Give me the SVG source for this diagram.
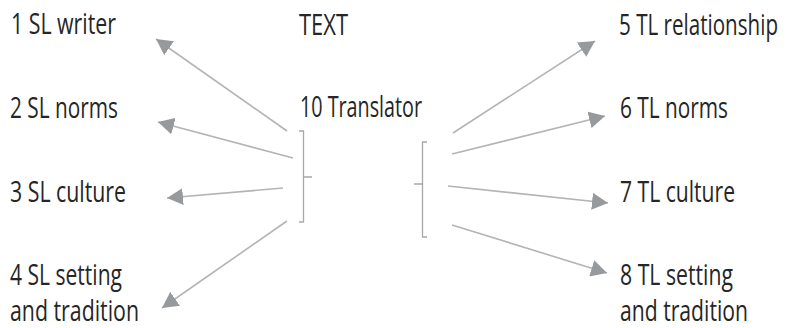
<svg xmlns="http://www.w3.org/2000/svg" width="788" height="328" viewBox="0 0 788 328">
<style>
  .t { font-family: "Open Sans", "Liberation Sans", sans-serif; font-size: 29px; fill: #262626; }
  .c { stroke: #b4b4b4; stroke-width: 1.6; fill: none; }
  .b { stroke: #a8a8a8; stroke-width: 1.3; fill: none; }
</style>
<defs>
  <marker id="ah" markerUnits="userSpaceOnUse" markerWidth="17" markerHeight="17" viewBox="0 0 17 17" refX="16" refY="8.5" orient="auto">
    <path d="M0,0 L16,8.5 L0,17 z" fill="#979a9d"/>
  </marker>
</defs>
<rect width="788" height="328" fill="#ffffff"/>
<g id="n1"><text class="t" x="11" y="34" textLength="105" lengthAdjust="spacingAndGlyphs">1 SL writer</text></g>
<g id="n2"><text class="t" x="10" y="118" textLength="108" lengthAdjust="spacingAndGlyphs">2 SL norms</text></g>
<g id="n3"><text class="t" x="10" y="202" textLength="116" lengthAdjust="spacingAndGlyphs">3 SL culture</text></g>
<g id="n4">
  <text class="t" x="10" y="285" textLength="112" lengthAdjust="spacingAndGlyphs">4 SL setting</text>
  <text class="t" x="10" y="321" textLength="129" lengthAdjust="spacingAndGlyphs">and tradition</text>
</g>
<g id="n9"><text class="t" x="299" y="35" textLength="49" lengthAdjust="spacingAndGlyphs">TEXT</text></g>
<g id="n10"><text class="t" x="300" y="117" textLength="122" lengthAdjust="spacingAndGlyphs">10 Translator</text></g>
<g id="n5"><text class="t" x="619" y="35" textLength="159" lengthAdjust="spacingAndGlyphs">5 TL relationship</text></g>
<g id="n6"><text class="t" x="620" y="118" textLength="108" lengthAdjust="spacingAndGlyphs">6 TL norms</text></g>
<g id="n7"><text class="t" x="620" y="202" textLength="115" lengthAdjust="spacingAndGlyphs">7 TL culture</text></g>
<g id="n8">
  <text class="t" x="620" y="285" textLength="113" lengthAdjust="spacingAndGlyphs">8 TL setting</text>
  <text class="t" x="620" y="321" textLength="128" lengthAdjust="spacingAndGlyphs">and tradition</text>
</g>
<g id="brackets">
  <path class="b" d="M299,131 H303.5 V222 H299 M303.5,177 H312"/>
  <path class="b" d="M427,142 H422.5 V237 H427 M422.5,184 H414"/>
</g>
<g id="connectors">
  <line class="c" x1="287" y1="131" x2="156" y2="39" marker-end="url(#ah)"/>
  <line class="c" x1="293" y1="158" x2="158" y2="122" marker-end="url(#ah)"/>
  <line class="c" x1="283" y1="188" x2="167" y2="198" marker-end="url(#ah)"/>
  <line class="c" x1="287" y1="221" x2="162" y2="308" marker-end="url(#ah)"/>
  <line class="c" x1="453" y1="133" x2="595" y2="41" marker-end="url(#ah)"/>
  <line class="c" x1="452" y1="154" x2="605" y2="116" marker-end="url(#ah)"/>
  <line class="c" x1="448" y1="186" x2="608" y2="203" marker-end="url(#ah)"/>
  <line class="c" x1="452" y1="225" x2="607" y2="273" marker-end="url(#ah)"/>
</g>
</svg>
